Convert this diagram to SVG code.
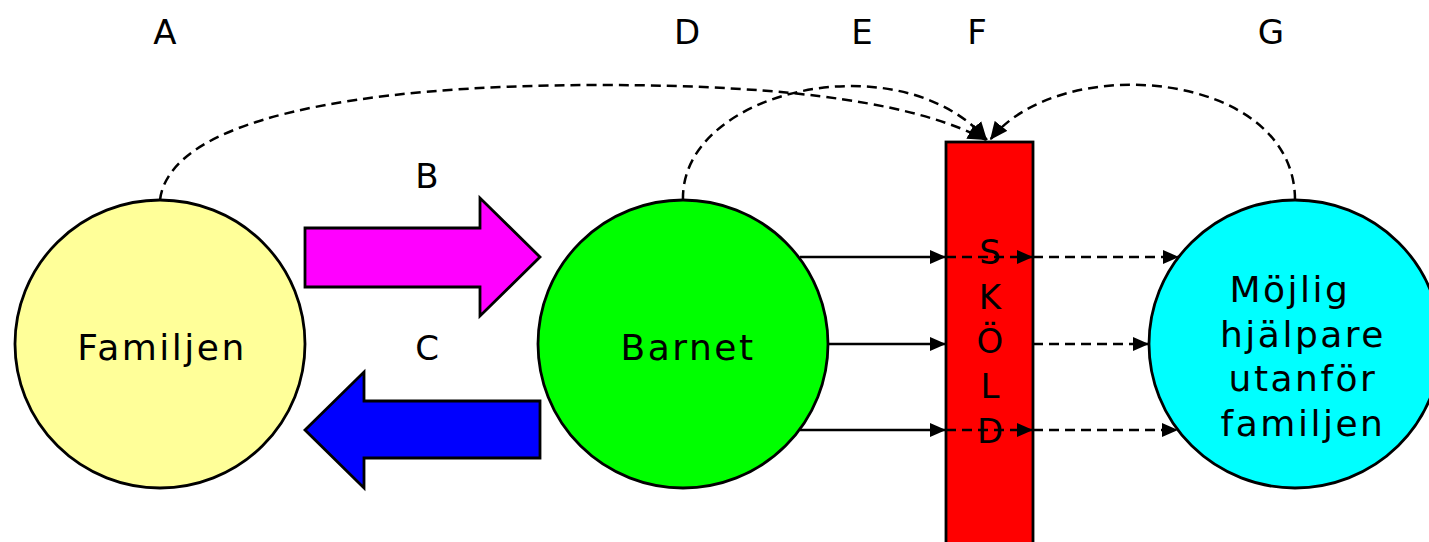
<svg xmlns="http://www.w3.org/2000/svg" width="1429" height="542" viewBox="0 0 1429 542">
  <defs>
    <style>
      .lbl { font-family: "DejaVu Sans", Verdana, sans-serif; font-size: 34px; fill: #000; text-anchor: middle; }
      .node { stroke: #000; stroke-width: 2.8; }
      .txt { font-family: "DejaVu Sans", Verdana, sans-serif; font-size: 36px; fill: #000; text-anchor: middle; letter-spacing: 2.5px; }
      .solid { fill: none; stroke: #000; stroke-width: 2.5; marker-end: url(#ah); }
      .dash { fill: none; stroke: #000; stroke-width: 2.5; stroke-dasharray: 10 6; marker-end: url(#ah); }
      .dashcurve { fill: none; stroke: #000; stroke-width: 2.5; stroke-dasharray: 10 6; marker-end: url(#ah2); }
    </style>
    <marker id="ah" markerUnits="userSpaceOnUse" markerWidth="16" markerHeight="14" refX="16" refY="7" orient="auto">
      <path d="M0,0 L16,7 L0,14 Z" fill="#000"/>
    </marker>
    <marker id="ah2" markerUnits="userSpaceOnUse" markerWidth="18" markerHeight="16" refX="18" refY="8" orient="auto">
      <path d="M0,0 L18,8 L0,16 Z" fill="#000"/>
    </marker>
  </defs>
  <rect width="1429" height="542" fill="#fff"/>

  <g id="labels">
    <text class="lbl" x="165" y="44">A</text>
    <text class="lbl" x="427" y="188">B</text>
    <text class="lbl" x="427" y="360">C</text>
    <text class="lbl" x="687" y="44">D</text>
    <text class="lbl" x="862" y="44">E</text>
    <text class="lbl" x="977" y="44">F</text>
    <text class="lbl" x="1271" y="44">G</text>
  </g>

  <g id="familjen">
    <ellipse class="node" cx="160" cy="344" rx="145" ry="144" fill="#FFFF99"/>
    <text class="txt" x="162" y="360">Familjen</text>
  </g>

  <g id="barnet">
    <ellipse class="node" cx="683" cy="344" rx="145" ry="144" fill="#00FF00"/>
    <text class="txt" x="688" y="360">Barnet</text>
  </g>

  <g id="hjalpare">
    <ellipse class="node" cx="1295" cy="344" rx="146" ry="144" fill="#00FFFF"/>
    <text class="txt" x="1290" y="302">Möjlig</text>
    <text class="txt" x="1303" y="347">hjälpare</text>
    <text class="txt" x="1303" y="391">utanför</text>
    <text class="txt" x="1303" y="436">familjen</text>
  </g>

  <g id="arrowB">
    <path class="node" d="M305,228 L480,228 L480,198 L540,257 L480,316 L480,287 L305,287 Z" fill="#FF00FF"/>
  </g>
  <g id="arrowC">
    <path class="node" d="M540,401 L364,401 L364,372 L305,430 L364,488 L364,458 L540,458 Z" fill="#0000FF"/>
  </g>

  <g id="skold">
    <rect x="946" y="142" width="87" height="420" fill="#FF0000" stroke="#000" stroke-width="2.8"/>
    <text class="lbl" x="990" y="264" font-size="35">S</text>
    <text class="lbl" x="990" y="309" font-size="35">K</text>
    <text class="lbl" x="990" y="353" font-size="35">Ö</text>
    <text class="lbl" x="990" y="398" font-size="35">L</text>
    <text class="lbl" x="990" y="443" font-size="35">D</text>
  </g>

  <g id="connectors">
    <path class="dashcurve" d="M160,200 C170,120 350,85 600,85 C800,85 920,105 986,140"/>
    <path class="dashcurve" d="M683,200 C680,90 900,40 987,140"/>
    <path class="dashcurve" d="M1295,200 C1295,70 1060,50 990,140"/>
    <path class="solid" d="M800,257 L946,257"/>
    <path class="solid" d="M828,344 L946,344"/>
    <path class="solid" d="M800,430 L946,430"/>
    <path class="dash" d="M946,257 L1033,257"/>
    <path class="dash" d="M1033,257 L1179,257"/>
    <path class="dash" d="M1033,344 L1149,344"/>
    <path class="dash" d="M946,430 L1033,430"/>
    <path class="dash" d="M1033,430 L1178,430"/>
  </g>
</svg>
